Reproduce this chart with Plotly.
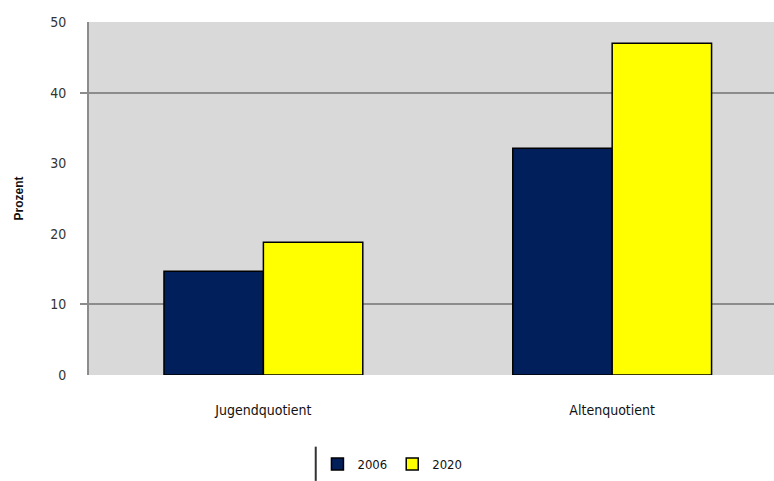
import plotly.graph_objects as go

categories = ["Jugendquotient", "Altenquotient"]
years = ["2006", "2020"]
values_2006 = [14.7, 32.1]
values_2020 = [18.8, 47.0]
y_ticks = [0, 10, 20, 30, 40, 50]
grid_lines = [10, 40]

colors = {"2006": "#001F5B", "2020": "#FFFF00"}

font_family = "DejaVu Sans Condensed, Liberation Sans Narrow, Arial Narrow, Liberation Sans, sans-serif"

fig = go.Figure()
for year, vals in zip(years, [values_2006, values_2020]):
    fig.add_trace(go.Bar(
        x=categories, y=vals, name=year,
        marker=dict(color=colors[year], line=dict(color="#000000", width=1.5)),
    ))

# invisible helper trace carrying the secondary axis for the gridlines
fig.add_trace(go.Scatter(x=categories, y=[None, None], yaxis="y2",
                         showlegend=False, hoverinfo="skip"))

fig.update_layout(
    width=774, height=481,
    margin=dict(l=89, r=0, t=22, b=106),
    paper_bgcolor="white",
    plot_bgcolor="#D9D9D9",
    barmode="group",
    bargap=0.43,
    bargroupgap=0,
    font=dict(family=font_family, color="#111111", size=13),
    xaxis=dict(
        range=[-0.5, 1.464],
        showgrid=False, showline=False, ticks="",
        ticklabelstandoff=25,
        tickfont=dict(size=14, family=font_family),
    ),
    yaxis=dict(
        range=[0, 50], tickvals=y_ticks,
        showgrid=False, zeroline=False,
        showline=True, linecolor="#8C8C8C", linewidth=2,
        ticks="", ticklabelstandoff=18,
        tickfont=dict(size=14, family=font_family, color="#333333"),
        title=dict(text="<b>Prozent</b>", font=dict(size=12, family="Liberation Sans, Arial, sans-serif"), standoff=24),
    ),
    yaxis2=dict(
        range=[0, 50], tickvals=grid_lines, overlaying="y", side="left",
        showgrid=True, gridcolor="#8C8C8C", gridwidth=1.5,
        showticklabels=False, ticks="outside", ticklen=8, tickcolor="#8C8C8C", tickwidth=1.5,
        zeroline=False, showline=False, layer="below traces",
    ),
    legend=dict(
        orientation="h", x=0.443, xanchor="center", y=-0.21, yanchor="top",
        font=dict(size=13, family=font_family),
        itemwidth=30, tracegroupgap=0,
    ),
    showlegend=True,
)

# legend frame edge
fig.add_shape(type="line", xref="paper", yref="paper",
              x0=0.331, x1=0.331, y0=-0.203, y1=-0.30,
              line=dict(color="#333333", width=2))

fig.write_html("out.html")
